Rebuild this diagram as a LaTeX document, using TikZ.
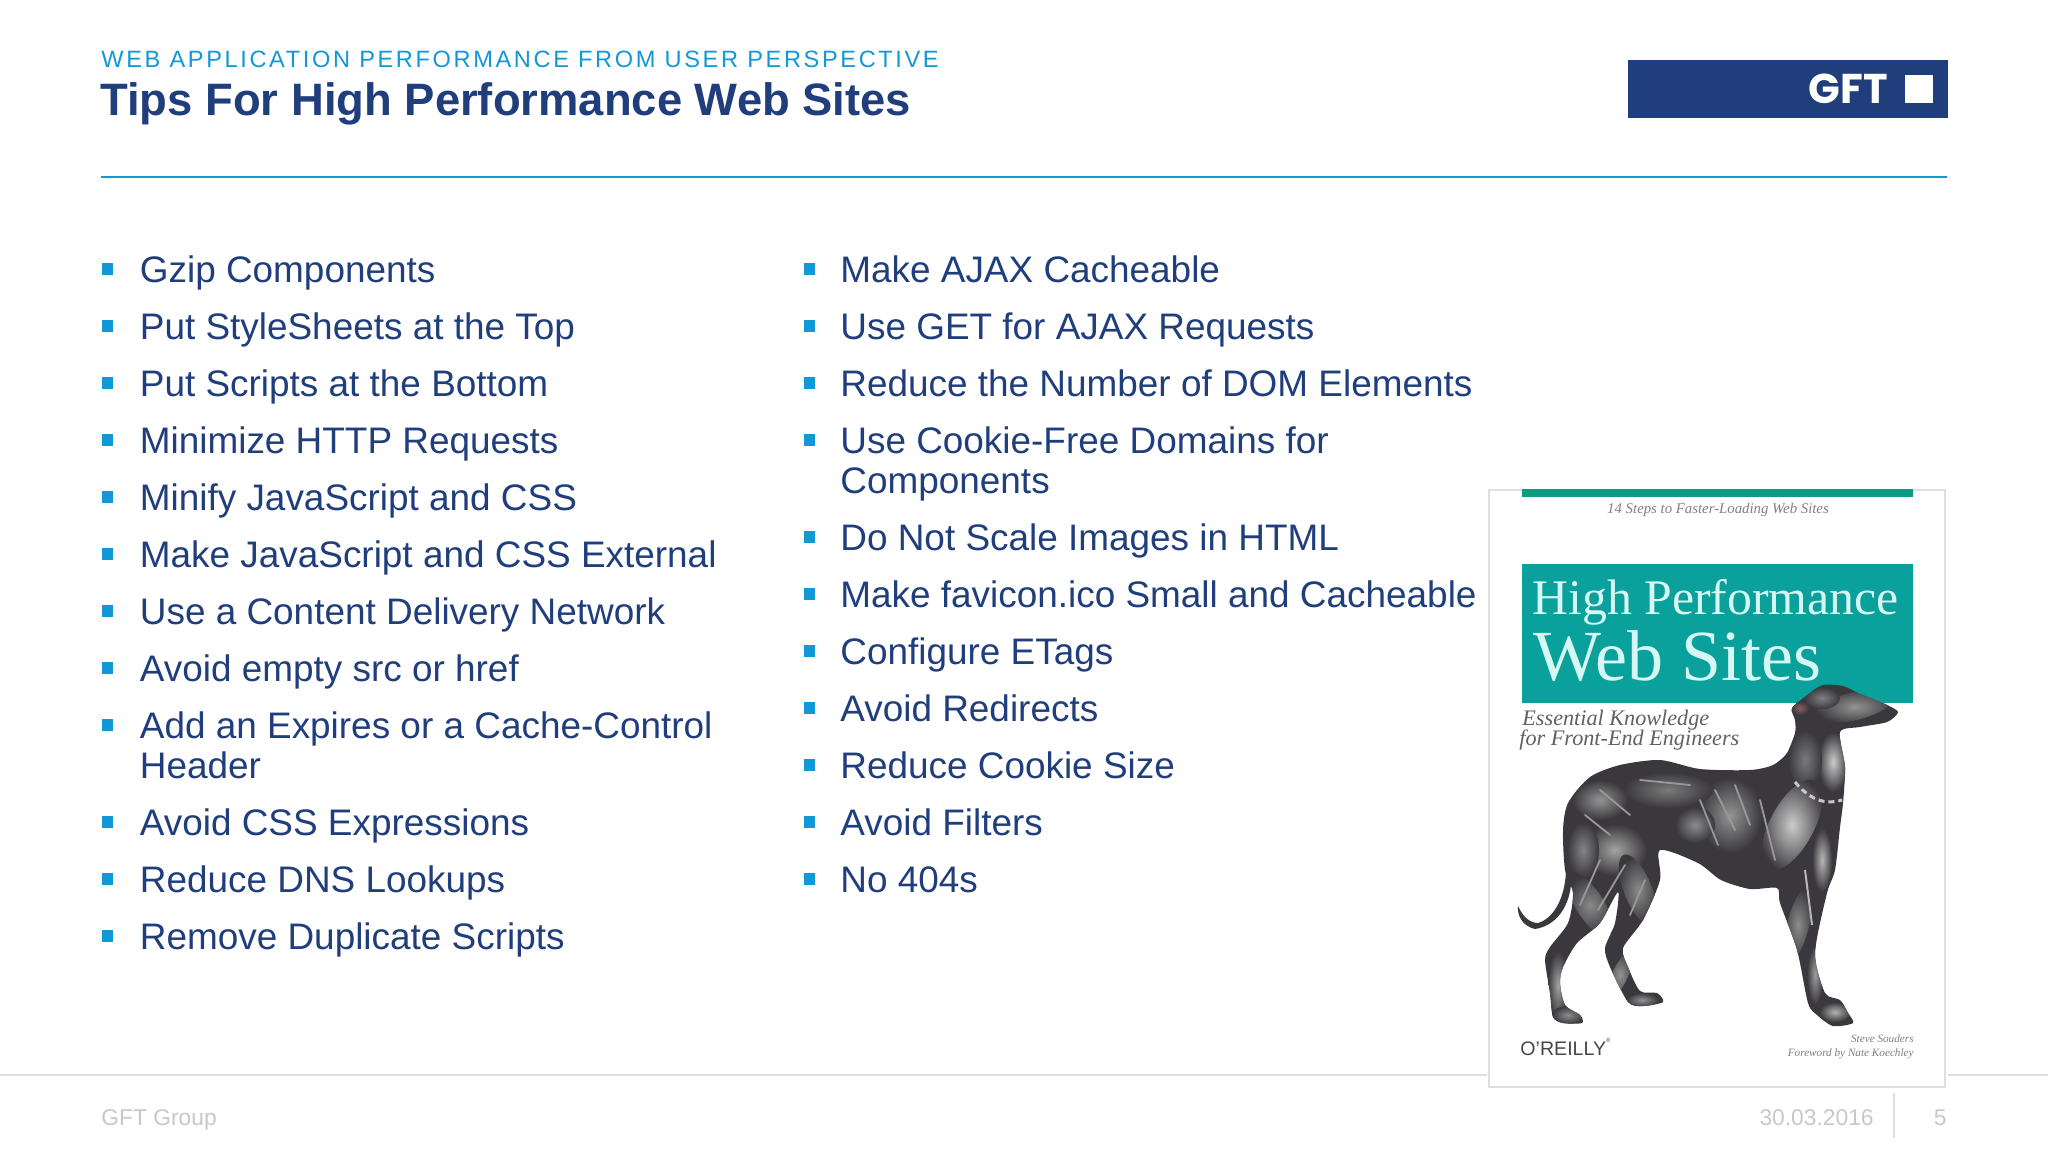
\documentclass[tikz,border=0pt]{standalone}
\usepackage{fontspec}
\setmainfont{Liberation Sans}
\newfontfamily\coverfont{Liberation Serif}
\newfontfamily\logofont{Poppins}
\definecolor{gftnavy}{RGB}{32, 62, 124}
\definecolor{gftblue}{RGB}{18, 152, 214}
\definecolor{footgray}{RGB}{200, 200, 204}
\definecolor{footline}{RGB}{222, 222, 224}
\definecolor{coverteal}{RGB}{10, 160, 155}
\definecolor{coverbar}{RGB}{14, 155, 130}
\definecolor{coverink}{RGB}{214, 248, 244}
\definecolor{dogdark}{RGB}{58, 56, 60}
\definecolor{dogear}{RGB}{140, 95, 95}
\usetikzlibrary{positioning}
\newcommand{\dogoutline}{plot[smooth cycle, tension=0.45] coordinates {
  (1898,712) (1885,704) (1860,694) (1843,686) (1823,685) (1810,693) (1792,708) (1795,720)
  (1795,733) (1787,753) (1773,765) (1750,770) (1700,769) (1660,760) (1620,765) (1590,777)
  (1568,803) (1563,830) (1565,870) (1573,893) (1568,923) (1550,947) (1545,960) (1550,993)
  (1553,1017) (1563,1023) (1582,1023) (1580,1015) (1565,1005) (1560,983) (1563,967) (1577,943)
  (1600,923) (1618,892) (1615,923) (1605,948) (1610,967) (1628,1002) (1643,1006) (1663,1002)
  (1657,993) (1640,991) (1628,967) (1623,948) (1643,920) (1660,880) (1660,850) (1698,863)
  (1721,880) (1750,889) (1777,888) (1780,903) (1797,950) (1808,1003) (1817,1015) (1833,1026)
  (1853,1023) (1848,1013) (1840,1000) (1825,993) (1815,953) (1827,893) (1835,870) (1840,827)
  (1843,803) (1845,767) (1840,732) (1860,727) (1887,722)}}
\tikzset{
  tiptext/.style={anchor=base west, inner sep=0pt, align=left, text=gftnavy, font=\fontsize{18.46}{20.25}\selectfont},
  tipmark/.style={rectangle, fill=gftblue, inner sep=0pt, minimum width=5.5pt, minimum height=6pt},
  foottext/.style={inner sep=0pt, text=footgray, font=\fontsize{11.4}{13}\selectfont},
  coverline/.style={inner sep=0pt, text=coverink, font=\coverfont},
  coversub/.style={inner sep=0pt, anchor=base west, text=black!62, font=\coverfont\itshape\fontsize{11.1}{12}\selectfont},
  covertiny/.style={inner sep=0pt, text=black!50, font=\coverfont\itshape\fontsize{5.6}{7}\selectfont},
  softspot/.style={inner color=#1, outer color=dogdark},
  dogstroke/.style={black!40, line width=0.9pt, line cap=round}
}

\begin{document}
\begin{tikzpicture}[x=0.5pt, y=-0.5pt]
  \useasboundingbox (0,0) rectangle (2048,1152);
  \fill[white] (0,0) rectangle (2048,1152);

  % Header
  \node[anchor=base west, inner sep=0pt, text=gftblue, font=\fontsize{11.8}{14}\selectfont\addfontfeatures{LetterSpace=11.1}] (kicker) at (101,67) {WEB APPLICATION PERFORMANCE FROM USER PERSPECTIVE};
  \node[anchor=base west, inner sep=0pt, text=gftnavy, font=\fontsize{22.7}{26}\selectfont\bfseries] (headline) at (100,115.5) {Tips For High Performance Web Sites};
  \fill[gftnavy] (1628,60) rectangle (1948,118);
  \fill[white] (1905,75) rectangle (1933,103);
  \node[anchor=base east, inner sep=0pt, text=white, font=\logofont\bfseries\fontsize{20.8}{22}\selectfont] (logoname) at (1888,103) {GFT};
  \draw[gftblue, line width=1pt] (101,177) -- (1947,177);

  % Left column
  \node[tipmark] (marka) at (107,269) {};
  \node[tiptext] (tipa) at (139.5,282) {Gzip Components};
  \node[tipmark] (markb) at (107,326) {};
  \node[tiptext] (tipb) at (139.5,339) {Put StyleSheets at the Top};
  \node[tipmark] (markc) at (107,383) {};
  \node[tiptext] (tipc) at (139.5,396) {Put Scripts at the Bottom};
  \node[tipmark] (markd) at (107,440) {};
  \node[tiptext] (tipd) at (139.5,453) {Minimize HTTP Requests};
  \node[tipmark] (marke) at (107,497) {};
  \node[tiptext] (tipe) at (139.5,510) {Minify JavaScript and CSS};
  \node[tipmark] (markf) at (107,554) {};
  \node[tiptext] (tipf) at (139.5,567) {Make JavaScript and CSS External};
  \node[tipmark] (markg) at (107,611) {};
  \node[tiptext] (tipg) at (139.5,624) {Use a Content Delivery Network};
  \node[tipmark] (markh) at (107,668) {};
  \node[tiptext] (tiph) at (139.5,681) {Avoid empty src or href};
  \node[tipmark] (marki) at (107,725) {};
  \node[tiptext] (tipi) at (139.5,778.5) {Add an Expires or a Cache-Control\\Header};
  \node[tipmark] (markj) at (107,822) {};
  \node[tiptext] (tipj) at (139.5,835) {Avoid CSS Expressions};
  \node[tipmark] (markk) at (107,879) {};
  \node[tiptext] (tipk) at (139.5,892) {Reduce DNS Lookups};
  \node[tipmark] (markl) at (107,936) {};
  \node[tiptext] (tipl) at (139.5,949) {Remove Duplicate Scripts};

  % Right column
  \node[tipmark] (markm) at (809,269) {};
  \node[tiptext] (tipm) at (840,282) {Make AJAX Cacheable};
  \node[tipmark] (markn) at (809,326) {};
  \node[tiptext] (tipn) at (840,339) {Use GET for AJAX Requests};
  \node[tipmark] (marko) at (809,383) {};
  \node[tiptext] (tipo) at (840,396) {Reduce the Number of DOM Elements};
  \node[tipmark] (markp) at (809,440) {};
  \node[tiptext] (tipp) at (840,493.5) {Use Cookie-Free Domains for\\Components};
  \node[tipmark] (markq) at (809,537) {};
  \node[tiptext] (tipq) at (840,550) {Do Not Scale Images in HTML};
  \node[tipmark] (markr) at (809,594) {};
  \node[tiptext] (tipr) at (840,607) {Make favicon.ico Small and Cacheable};
  \node[tipmark] (marks) at (809,651) {};
  \node[tiptext] (tips) at (840,664) {Configure ETags};
  \node[tipmark] (markt) at (809,708) {};
  \node[tiptext] (tipt) at (840,721) {Avoid Redirects};
  \node[tipmark] (marku) at (809,765) {};
  \node[tiptext] (tipu) at (840,778) {Reduce Cookie Size};
  \node[tipmark] (markv) at (809,822) {};
  \node[tiptext] (tipv) at (840,835) {Avoid Filters};
  \node[tipmark] (markw) at (809,879) {};
  \node[tiptext] (tipw) at (840,892) {No 404s};

  % Footer
  \draw[footline, line width=1pt] (0,1075) -- (1487,1075);
  \draw[footline, line width=1pt] (1948,1075) -- (2048,1075);
  \node[foottext, anchor=base west] (footgroup) at (101,1125) {GFT Group};
  \node[foottext, anchor=base east] (footdate) at (1874,1125) {30.03.2016};
  \node[foottext, anchor=base east] (footpage) at (1947,1125) {5};
  \draw[footline, line width=1pt] (1894,1093) -- (1894,1138);

  % Book cover
  \draw[fill=white, draw=footline, line width=1.3pt] (1489,490) rectangle (1945,1087);
  \fill[coverbar] (1522,489) rectangle (1913,497);
  \node[covertiny, anchor=base, font=\coverfont\itshape\fontsize{7.4}{9}\selectfont] (coversteps) at (1718,513) {14 Steps to Faster-Loading Web Sites};
  \fill[coverteal] (1522,564) rectangle (1913,703);
  \node[coverline, anchor=base west, font=\coverfont\fontsize{24.9}{28}\selectfont] (covertitle) at (1532,614) {High Performance};
  \node[coverline, anchor=base west, font=\coverfont\fontsize{36}{40}\selectfont] (coverweb) at (1533,680) {Web Sites};
  \node[coversub] (coveress) at (1522,725) {Essential Knowledge};
  \node[coversub] (coverfor) at (1519,745) {for Front-End Engineers};
  \node[anchor=base west, inner sep=0pt, text=black!72, font=\fontsize{9.8}{12}\selectfont] (coverpub) at (1520,1055) {O'REILLY\raisebox{1.2ex}{\fontsize{3}{3}\selectfont\textregistered}};
  \node[covertiny, anchor=base east] (coverauth) at (1914,1042) {Steve Souders};
  \node[covertiny, anchor=base east] (coverfore) at (1914,1056) {Foreword by Nate Koechley};

  % Dog
  \fill[dogdark] (1571,868) .. controls (1574,900) and (1560,925) .. (1535,929) .. controls (1522,926) and (1517,915) .. (1518,906) .. controls (1523,917) and (1530,923) .. (1538,923) .. controls (1555,918) and (1566,895) .. (1566,868) -- cycle;
  \fill[dogdark] \dogoutline;
  \begin{scope}
    \clip \dogoutline;
    % head and neck
    \shade[softspot=black!42, rotate around={14:(1855,706)}] (1855,706) ellipse (40 and 14);
    \shade[softspot=black!50] (1822,698) ellipse (18 and 11);
    \shade[softspot=dogear] (1800,708) ellipse (9 and 7);
    \shade[softspot=black!20] (1833,762) ellipse (15 and 30);
    \shade[softspot=black!52] (1805,760) ellipse (17 and 30);
    % chest
    \shade[softspot=black!20, rotate around={-28:(1792,825)}] (1792,825) ellipse (22 and 50);
    \shade[softspot=black!28] (1822,860) ellipse (10 and 32);
    % body
    \shade[softspot=black!42] (1730,815) ellipse (32 and 38);
    \shade[softspot=black!52] (1668,790) ellipse (45 and 18);
    \shade[softspot=black!45] (1695,825) ellipse (20 and 18);
    % hind quarters
    \shade[softspot=black!42] (1600,800) ellipse (28 and 20);
    \shade[softspot=black!36] (1615,850) ellipse (32 and 26);
    \shade[softspot=black!48] (1583,850) ellipse (16 and 28);
    % legs
    \shade[softspot=black!46, rotate around={32:(1590,905)}] (1590,905) ellipse (14 and 36);
    \shade[softspot=black!36] (1558,985) ellipse (10 and 34);
    \shade[softspot=black!45] (1568,1015) ellipse (16 and 9);
    \shade[softspot=black!46, rotate around={22:(1638,890)}] (1638,890) ellipse (14 and 38);
    \shade[softspot=black!42, rotate around={-25:(1620,975)}] (1620,975) ellipse (8 and 26);
    \shade[softspot=black!42] (1642,1000) ellipse (16 and 7);
    \shade[softspot=black!45, rotate around={-14:(1798,925)}] (1798,925) ellipse (11 and 38);
    \shade[softspot=black!38] (1815,975) ellipse (8 and 30);
    \shade[softspot=black!30] (1835,1012) ellipse (16 and 10);
    % engraving strokes
    \draw[dogstroke] (1715,790) -- (1735,830);
    \draw[dogstroke] (1735,785) -- (1750,825);
    \draw[dogstroke] (1700,800) -- (1718,845);
    \draw[dogstroke] (1640,780) -- (1690,785);
    \draw[dogstroke] (1585,815) -- (1610,835);
    \draw[dogstroke] (1600,790) -- (1630,815);
    \draw[dogstroke] (1600,860) -- (1580,905);
    \draw[dogstroke] (1625,865) -- (1598,910);
    \draw[dogstroke] (1645,880) -- (1630,915);
    \draw[dogstroke] (1760,800) -- (1775,860);
    % collar and the pale line down the foreleg
    \draw[black!28, line width=1pt] (1805,870) -- (1812,925);
    \draw[black!22, line width=1.5pt, dash pattern=on 3pt off 2pt] (1795,782) .. controls (1810,800) and (1825,805) .. (1842,800);
  \end{scope}
\end{tikzpicture}
\end{document}
